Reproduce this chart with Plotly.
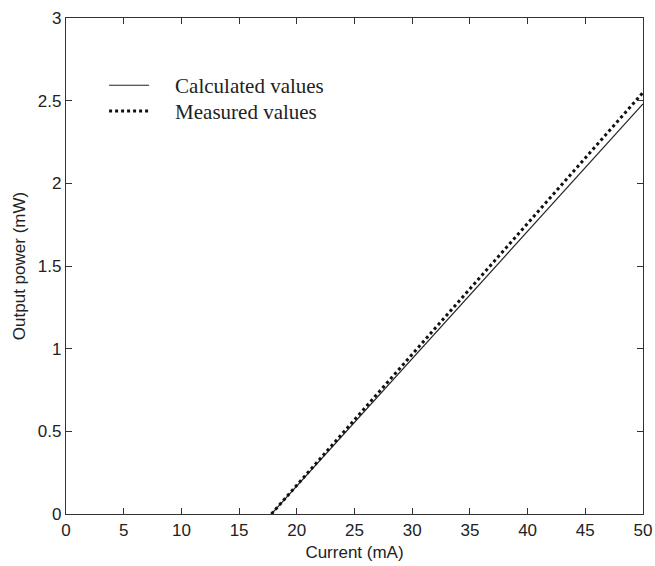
import plotly.graph_objects as go

# Laser diode output power vs drive current
current_ma = [17.8, 50]
calculated_mw = [0, 2.48]
measured_mw = [0, 2.55]

x_ticks = [0, 5, 10, 15, 20, 25, 30, 35, 40, 45, 50]
y_ticks = [0, 0.5, 1, 1.5, 2, 2.5, 3]
y_tick_text = ["0", "0.5", "1", "1.5", "2", "2.5", "3"]

# em space widens the gap between the legend sample and its label
gap = "\u2003"

fig = go.Figure()
fig.add_trace(go.Scatter(
    x=current_ma, y=calculated_mw, mode="lines", name=gap + "Calculated values",
    line=dict(color="#222", width=1.2), legend="legend",
))
fig.add_trace(go.Scatter(
    x=current_ma, y=measured_mw, mode="lines", name=gap + "Measured values",
    line=dict(color="#111", width=3, dash="dot"), legend="legend2",
))

axis_common = dict(
    showgrid=False, zeroline=False, showline=True, linecolor="#333", linewidth=1.2,
    mirror="ticks", ticks="inside", ticklen=6, tickcolor="#333", automargin=False,
    tickfont=dict(family="Liberation Sans, Arial", size=17, color="#222"),
)

legend_common = dict(
    xanchor="left", yanchor="top", bgcolor="rgba(0,0,0,0)",
    font=dict(family="Liberation Serif, Times New Roman", size=21, color="#222"),
    itemwidth=40,
)

fig.update_layout(
    width=655, height=566,
    margin=dict(l=66, r=12, t=18, b=52),
    paper_bgcolor="white", plot_bgcolor="white",
    showlegend=True,
    legend=dict(x=0.066, y=0.905, **legend_common),
    legend2=dict(x=0.066, y=0.853, **legend_common),
    xaxis=dict(
        range=[0, 50], tickvals=x_ticks,
        title=dict(text="Current (mA)", standoff=7,
                   font=dict(family="Liberation Sans, Arial", size=17, color="#222")),
        **axis_common,
    ),
    yaxis=dict(
        range=[0, 3], tickvals=y_ticks, ticktext=y_tick_text,
        title=dict(text="Output power (mW)", standoff=7,
                   font=dict(family="Liberation Sans, Arial", size=17, color="#222")),
        **axis_common,
    ),
)

fig.write_html("out.html")
